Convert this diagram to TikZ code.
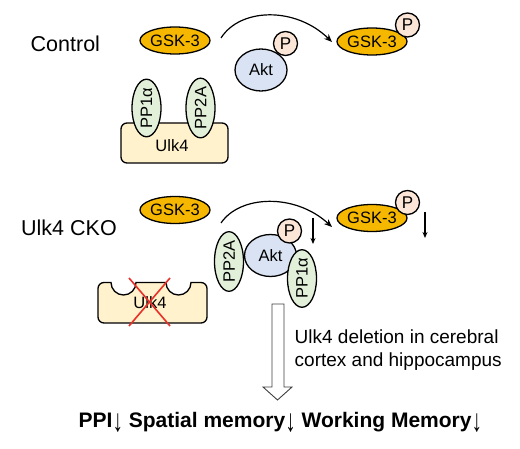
\documentclass[tikz,border=0pt]{standalone}
\usepackage{fontspec}
\setmainfont{Liberation Sans}
\usetikzlibrary{shapes.geometric,arrows.meta}
\definecolor{gskc}{HTML}{F5B700}
\definecolor{aktc}{HTML}{DAE3F3}
\definecolor{pc}{HTML}{FBE5D6}
\definecolor{ppc}{HTML}{E2F0D9}
\definecolor{ulkc}{HTML}{FFF2CC}
\definecolor{xred}{HTML}{E8302A}
\newcommand{\dnarr}{{\mdseries\raisebox{-5pt}{\scalebox{1}[1.5]{↓}}}}
\tikzset{
  outl/.style={draw=black, line width=1.3pt},
  gsk/.style={outl, ellipse, fill=gskc, minimum width=62pt, minimum height=27pt, inner sep=0pt, font=\fontsize{16.5}{19}\selectfont},
  akt/.style={outl, ellipse, fill=aktc, minimum width=52pt, minimum height=42pt, inner sep=0pt, font=\fontsize{16.5}{19}\selectfont},
  pcirc/.style={outl, circle, fill=pc, minimum size=24pt, inner sep=0pt, font=\fontsize{17}{19}\selectfont},
  ppell/.style={outl, ellipse, fill=ppc, minimum width=51pt, minimum height=29pt, inner sep=0pt, rotate=90, font=\fontsize{16.5}{19}\selectfont},
  ulkbox/.style={outl, fill=ulkc, rounded corners=6pt, minimum width=107pt, minimum height=40pt, inner sep=0pt},
  lbl/.style={inner sep=0pt, font=\fontsize{16.5}{19}\selectfont},
  title/.style={inner sep=0pt, anchor=base west, font=\fontsize{21.5}{24}\selectfont},
  curvearrow/.style={line width=1.2pt, -{Stealth[length=8pt,width=6.5pt]}},
  downarrow/.style={line width=1.1pt, -{Stealth[length=6pt,width=5pt]}},
  redx/.style={draw=xred, line width=1.6pt},
}
\begin{document}
\begin{tikzpicture}[x=1pt,y=-1pt]
\useasboundingbox (0,0) rectangle (520,449);
\fill[white] (0,0) rectangle (520,449);

% ---------- Control ----------
\node[title] (control) at (30.5,51.7) {Control};
\node[gsk] (gska) at (175,40.5) {GSK-3};

\node[ulkbox] (ulka) at (174.5,143) {};
\node[lbl] (ulkatext) at (172,145.5) {Ulk4};
\node[ppell] (ppaa) at (146.5,108) {PP1α};
\node[ppell] (ppab) at (200.5,108) {PP2A};

\node[akt] (akta) at (261,70) {Akt};
\node[pcirc] (pa) at (285.5,43.5) {P};

\node[gsk] (gskb) at (372,41.5) {GSK-3};
\node[pcirc] (pb) at (407.5,25) {P};

\coordinate (c1s) at (221,38);
\coordinate (c1e) at (332,42);
\draw[curvearrow] (c1s) .. controls (240,8) and (295,6) .. (c1e);

% ---------- Ulk4 CKO ----------
\node[title] (cko) at (21,235.7) {Ulk4 CKO};
\node[gsk] (gskc) at (175,210) {GSK-3};

\draw[outl, fill=ulkc] (98,288.5) arc[start angle=180,end angle=90,radius=6pt]
  -- (111,282.5) arc[start angle=180,end angle=360,radius=12.5pt]
  -- (166,282.5) arc[start angle=180,end angle=360,radius=12.5pt]
  -- (201,282.5) arc[start angle=90,end angle=0,radius=6pt]
  -- (207,317) arc[start angle=0,end angle=-90,radius=6pt]
  -- (104,323) arc[start angle=270,end angle=180,radius=6pt] -- cycle;
\node[lbl] (ulkbtext) at (150,303) {Ulk4};
\coordinate (x1) at (129,278);
\coordinate (x2) at (170,326);
\coordinate (x3) at (170,278);
\coordinate (x4) at (129,326);
\draw[redx] (x1) -- (x2);
\draw[redx] (x3) -- (x4);

\node[akt] (aktb) at (270.5,255.5) {Akt};
\node[ppell] (ppba) at (229,261.5) {PP2A};
\node[ppell] (ppbb) at (302,278.5) {PP1α};
\node[pcirc] (pc) at (289.5,231) {P};

\coordinate (d1s) at (313,218);
\coordinate (d1e) at (313,244);
\draw[downarrow] (d1s) -- (d1e);

\node[gsk] (gskd) at (372,218) {GSK-3};
\node[pcirc] (pd) at (407.5,202.5) {P};
\coordinate (d2s) at (425,212);
\coordinate (d2e) at (425,238);
\draw[downarrow] (d2s) -- (d2e);

\coordinate (c2s) at (221,223);
\coordinate (c2e) at (332,227);
\draw[curvearrow] (c2s) .. controls (240,195) and (295,193) .. (c2e);

% ---------- block arrow ----------
\draw[draw=black!75, line width=0.9pt, fill=white]
  (272,304) -- (284,304) -- (284,387) -- (292,387) -- (277.5,400)
  -- (263,387) -- (272,387) -- cycle;
\node[inner sep=0pt, anchor=west, align=left, font=\fontsize{19}{23}\selectfont] (note) at (294.5,350.5)
  {Ulk4 deletion in cerebral\\cortex and hippocampus};

% ---------- phenotypes ----------
\node[inner sep=0pt, anchor=base west, font=\fontsize{21}{24}\selectfont\bfseries] (pheno) at (78.5,427)
  {PPI\dnarr{} Spatial memory\dnarr{} Working Memory\dnarr};
\end{tikzpicture}
\end{document}
